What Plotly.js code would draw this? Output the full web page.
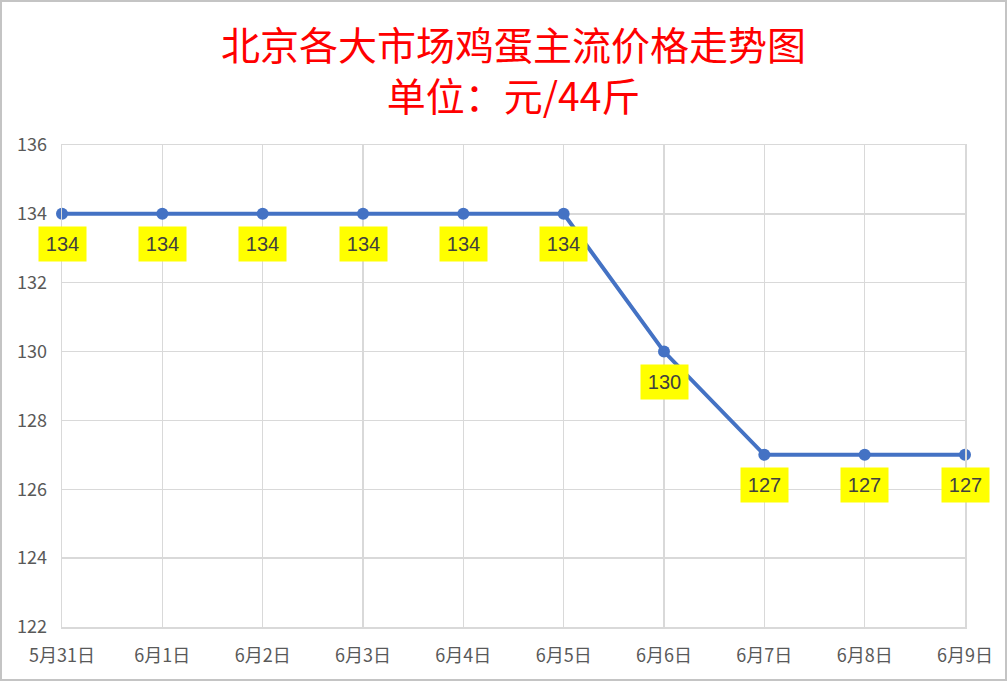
<!DOCTYPE html>
<html>
<head>
<meta charset="utf-8">
<script src="https://cdn.plot.ly/plotly-3.0.1.min.js"></script>
<style>
  html, body { margin: 0; padding: 0; background: #fff; }
  #frame { width: 1007px; height: 681px; box-sizing: border-box; border: 2px solid #c4c4c4; overflow: hidden; }
  #chart { width: 1003px; height: 677px; }
</style>
</head>
<body>
<div id="frame"><div id="chart"></div></div>
<script>
//chart data
var dates = ["5月31日", "6月1日", "6月2日", "6月3日", "6月4日", "6月5日", "6月6日", "6月7日", "6月8日", "6月9日"];
var prices = [134, 134, 134, 134, 134, 134, 130, 127, 127, 127];
var yTicks = [122, 124, 126, 128, 130, 132, 134, 136];
var titleLines = ["北京各大市场鸡蛋主流价格走势图", "单位：元/44斤"];

var tickFont = { family: "Noto Sans CJK SC, sans-serif", size: 18, color: "#595959" };
var titleFont = { family: "Noto Sans CJK SC, sans-serif", size: 39, color: "#FF0000" };

//yellow value boxes under each point
var notes = [];
for (var i = 0; i < dates.length; i++) {
  notes.push({
    x: dates[i],
    y: prices[i],
    text: String(prices[i]),
    showarrow: false,
    yshift: -30,
    width: 41,
    height: 28,
    bgcolor: "#FFFF00",
    borderpad: 3,
    font: { family: "Liberation Sans, Arial, sans-serif", size: 20, color: "#404040" }
  });
}

//two-line title above the plot area
notes.push({
  xref: "paper", yref: "paper", x: 0.5, y: 1.1577, yanchor: "middle",
  text: titleLines.join("<br>"), showarrow: false, font: titleFont
});

var data = [
  {
    x: dates,
    y: prices,
    mode: "lines+markers",
    type: "scatter",
    line: { color: "#4472C4", width: 4 },
    marker: { color: "#4472C4", size: 12 },
    cliponaxis: false,
    hoverinfo: "skip"
  }
];

var layout = {
  width: 1003,
  height: 677,
  margin: { l: 60, r: 40, t: 143, b: 52 },
  paper_bgcolor: "#fff",
  plot_bgcolor: "#fff",
  showlegend: false,
  xaxis: {
    type: "category",
    range: [0, dates.length - 1],
    showgrid: true,
    gridcolor: "#D9D9D9",
    gridwidth: 1.5,
    showline: true,
    linecolor: "#D9D9D9",
    linewidth: 1.5,
    mirror: true,
    ticks: "outside",
    ticklen: 12,
    tickcolor: "rgba(0,0,0,0)",
    tickfont: tickFont,
    fixedrange: true
  },
  yaxis: {
    range: [122, 136],
    tickvals: yTicks,
    showgrid: true,
    gridcolor: "#D9D9D9",
    gridwidth: 1.5,
    showline: true,
    linecolor: "#D9D9D9",
    linewidth: 1.5,
    mirror: true,
    zeroline: false,
    ticks: "outside",
    ticklen: 10,
    tickcolor: "rgba(0,0,0,0)",
    tickfont: tickFont,
    fixedrange: true
  },
  annotations: notes
};

Plotly.newPlot("chart", data, layout, { displayModeBar: false, staticPlot: true });
</script>
</body>
</html>
